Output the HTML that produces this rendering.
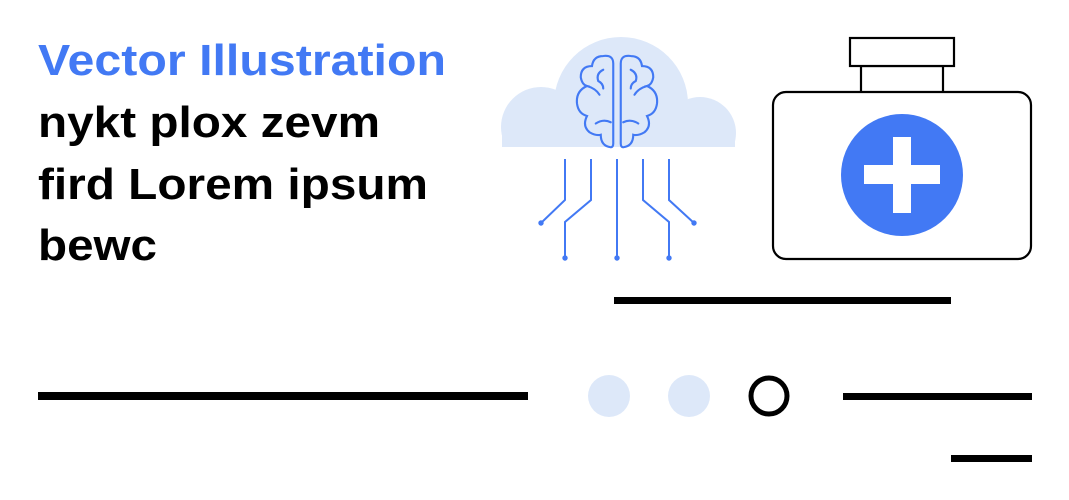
<!DOCTYPE html>
<html><head><meta charset="utf-8"><style>
html,body{margin:0;padding:0;background:#fff;}
svg{display:block;}
text{font-family:"Liberation Sans",Arial,sans-serif;font-weight:bold;font-size:44px;}
</style></head><body>
<svg width="1069" height="500" viewBox="0 0 1069 500" xmlns="http://www.w3.org/2000/svg">
<text x="38" y="75" fill="#4279f4" textLength="408" lengthAdjust="spacingAndGlyphs">Vector Illustration</text>
<text x="38" y="137" fill="#000" textLength="342" lengthAdjust="spacingAndGlyphs">nykt plox zevm</text>
<text x="38" y="199" fill="#000" textLength="390" lengthAdjust="spacingAndGlyphs">fird Lorem ipsum</text>
<text x="38" y="260" fill="#000" textLength="119" lengthAdjust="spacingAndGlyphs">bewc</text>

<!-- cloud -->
<clipPath id="cc"><rect x="490" y="20" width="260" height="127"/></clipPath>
<g clip-path="url(#cc)" fill="#dde8f9">
<circle cx="621" cy="104" r="67"/>
<circle cx="541" cy="127" r="40"/>
<circle cx="700" cy="133" r="36"/>
<rect x="541" y="120" width="160" height="30"/>
<rect x="502" y="125" width="233" height="25"/>
</g>
<!-- brain -->
<g fill="none" stroke="#4279f4" stroke-width="1.7" stroke-linecap="round" transform="translate(617,101) scale(1.25) translate(-617,-100)">
<path d="M614 70 Q614 63 606 64 Q598 64 597 72 Q588 72 588 81 Q589 87 593 88 Q584 92 585 102 Q586 110 593 112 Q589 120 595 125 Q600 128 604 127 Q604 136 612 137 Q614 137 614 134 Z"/>
<path d="M620 70 Q620 63 628 64 Q636 64 637 72 Q646 72 646 81 Q645 87 641 88 Q650 92 649 102 Q648 110 641 112 Q645 120 639 125 Q634 128 630 127 Q630 136 622 137 Q620 137 620 134 Z"/>
<path d="M606 75 Q600 78 602 84 Q606 86 606 90"/>
<path d="M628 75 Q634 78 632 84 Q628 86 628 90"/>
<path d="M593 88 Q600 90 603 95"/>
<path d="M641 88 Q634 90 631 95"/>
<path d="M600 118 Q606 114 612 117"/>
<path d="M634 118 Q628 114 622 117"/>
</g>
<!-- circuit -->
<g fill="none" stroke="#4279f4" stroke-width="2">
<path d="M565 159 V200 L541 223"/>
<path d="M591 159 V200 L565 222 V258"/>
<path d="M617 159 V258"/>
<path d="M643 159 V200 L669 222 V258"/>
<path d="M669 159 V200 L694 223"/>
</g>
<g fill="#4279f4">
<circle cx="541" cy="223" r="2.7"/><circle cx="694" cy="223" r="2.7"/>
<circle cx="565" cy="258" r="2.7"/><circle cx="617" cy="258" r="2.7"/><circle cx="669" cy="258" r="2.7"/>
</g>

<!-- medical case -->
<g fill="#fff" stroke="#000" stroke-width="2.2">
<rect x="861" y="66" width="82" height="27"/>
<rect x="850" y="38" width="104" height="28"/>
<rect x="773" y="92" width="258" height="167" rx="13"/>
</g>
<circle cx="902" cy="175" r="61" fill="#4279f4"/>
<rect x="864" y="165" width="76" height="19" fill="#fff"/>
<rect x="893" y="137" width="18" height="76" fill="#fff"/>

<!-- bottom -->
<rect x="614" y="297" width="337" height="7" fill="#000"/>
<rect x="38" y="392" width="490" height="8" fill="#000"/>
<circle cx="609" cy="396" r="21" fill="#dde8f9"/>
<circle cx="689" cy="396" r="21" fill="#dde8f9"/>
<circle cx="769" cy="396" r="18" fill="none" stroke="#000" stroke-width="5"/>
<rect x="843" y="393" width="189" height="7" fill="#000"/>
<rect x="951" y="455" width="81" height="7" fill="#000"/>
</svg>
</body></html>
